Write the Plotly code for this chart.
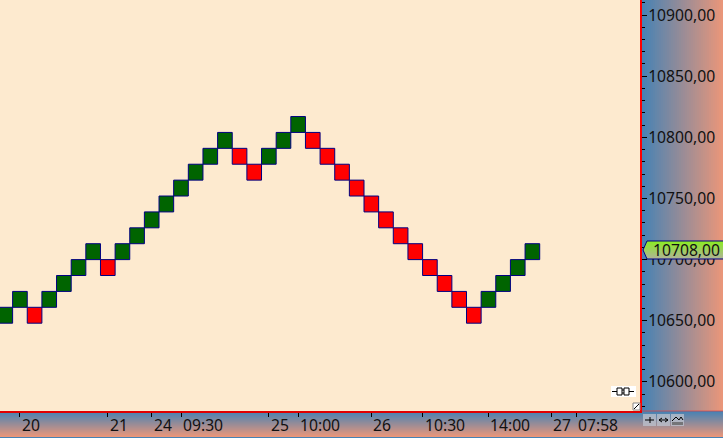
import plotly.graph_objects as go

W, H = 723, 438
PLOT_R, PLOT_B = 640, 411

brick_low = [10648, 10661, 10648, 10661, 10674, 10687, 10700, 10687, 10700, 10713,
             10726, 10739, 10752, 10765, 10778, 10791, 10778, 10765, 10778, 10791,
             10804, 10791, 10778, 10765, 10752, 10739, 10726, 10713, 10700, 10687,
             10674, 10661, 10648, 10661, 10674, 10687, 10700]
brick_dir = ["up", "up", "down", "up", "up", "up", "up", "down", "up", "up",
             "up", "up", "up", "up", "up", "up", "down", "down", "up", "up",
             "up", "down", "down", "down", "down", "down", "down", "down", "down", "down",
             "down", "down", "down", "up", "up", "up", "up"]
brick_size = 13
time_ticks = [1, 7, 10, 12, 18, 20, 25, 28.5, 33, 37.3, 39]
time_labels = ["20", "21", "24", "09:30", "25", "10:00", "26", "10:30", "14:00", "27", "07:58"]
last_price = 10708

FONT = "Noto Sans"
FS = 15.7


def mix(t, a=(70, 130, 180), b=(233, 150, 122)):
    return "rgb(%d,%d,%d)" % tuple(round(a[i] + (b[i] - a[i]) * t) for i in range(3))


def px(x):
    return x / W


def py(y):
    return 1 - y / H


def rect(x0, y0, x1, y1, fill, layer="below", line=None, lw=0):
    return dict(type="rect", xref="paper", yref="paper", x0=px(x0), x1=px(x1), y0=py(y0), y1=py(y1),
                fillcolor=fill, layer=layer, line=dict(width=lw, color=line or fill))


def seg(x0, y0, x1, y1, color="black", width=1, layer="above"):
    return dict(type="line", xref="paper", yref="paper", x0=px(x0), x1=px(x1), y0=py(y0), y1=py(y1),
                layer=layer, line=dict(color=color, width=width))


shapes = []
# right panel gradient
for x in range(641, W, 2):
    shapes.append(rect(x, 0, x + 2, PLOT_B, mix((x - 641) / 80)))
# bottom panel gradient
for y in range(PLOT_B, H):
    shapes.append(rect(0, y, W, y + 1, mix((y - PLOT_B) / 25)))
shapes.append(rect(0, 437, W, 438, "#4682B4"))
shapes.append(seg(641, 411, W, 411, "rgba(230,60,60,0.7)", 1, "below"))

# toolbar buttons
for bx in (643, 657, 671):
    shapes.append(rect(bx, 414, bx + 13, 426, "rgba(190,195,205,0.75)", "above"))
shapes += [seg(645, 420, 654, 420), seg(650, 417, 650, 423),
           seg(659, 420, 668, 420), seg(659, 420, 662, 418), seg(659, 420, 662, 422),
           seg(668, 420, 665, 418), seg(668, 420, 665, 422),
           seg(672, 421, 676, 417), seg(676, 417, 679, 420), seg(679, 420, 681, 417), seg(681, 417, 683, 420),
           rect(672, 422, 683, 425, "rgba(90,90,90,0.7)", "above")]

# connector glyph
shapes.append(rect(611, 386, 636, 397, "white", "above"))
shapes += [seg(612, 391.5, 617, 391.5), seg(629, 391.5, 634, 391.5), seg(622, 390, 624, 390), seg(622, 393, 624, 393),
           rect(617, 388, 622, 395, "white", "above", "black", 1),
           rect(624, 388, 629, 395, "white", "above", "black", 1)]
# corner resize box
shapes.append(rect(633, 403, 640, 410, "white", "above", "#888888", 1))
shapes.append(seg(634, 409, 639, 404, "black", 1))

# current-price tag
for y in range(241, 259):
    t = (y - 241) / 17
    left = 643 + abs(y + 0.5 - 250) * 4 / 9
    shapes.append(rect(left, y, W, y + 1, mix(t, (140, 235, 35), (175, 180, 150)), "above"))
shapes.append(dict(type="path", xref="paper", yref="paper", layer="above",
                   path="M %f %f L %f %f L %f %f L %f %f L %f %f" % (
                       px(723), py(241), px(647), py(241), px(643), py(250),
                       px(647), py(259), px(723), py(259)),
                   line=dict(color="#000080", width=1)))

annotations = [dict(x=t, y=py(425), xref="x", yref="paper", text=l, showarrow=False,
                    xanchor="left", yanchor="middle", xshift=0, font=dict(family=FONT, size=FS, color="#111111"))
               for t, l in zip(time_ticks, time_labels)]
annotations.append(dict(x=px(722), y=last_price, xref="paper", yref="y", text="10708,00", showarrow=False,
                        xanchor="right", yanchor="middle", font=dict(family=FONT, size=FS, color="#111111")))

fig = go.Figure(go.Bar(
    x=list(range(len(brick_low))),
    y=[brick_size] * len(brick_low),
    base=brick_low,
    width=1,
    marker=dict(color=["#006400" if d == "up" else "#FF0000" for d in brick_dir],
                line=dict(color="#000080", width=1)),
    hoverinfo="skip",
))
fig.update_layout(
    width=W, height=H, autosize=False,
    margin=dict(l=0, r=0, t=0, b=0, pad=0),
    paper_bgcolor="#FDEACF", plot_bgcolor="#FDEACF",
    separators=",.",
    showlegend=False,
    font=dict(family=FONT, size=FS, color="#111111"),
    shapes=shapes, annotations=annotations,
    xaxis=dict(domain=[0, PLOT_R / W], range=[-0.362, 43.35], showgrid=False, zeroline=False,
               tickmode="array", tickvals=time_ticks, ticktext=[""] * len(time_ticks),
               ticks="outside", ticklen=4, tickcolor="black", tickwidth=1,
               showline=True, linecolor="#E00000", linewidth=2),
    yaxis=dict(domain=[1 - PLOT_B / H, 1], range=[10576.2, 10912.3], side="right", anchor="x",
               showgrid=False, zeroline=False, tick0=10600, dtick=50, tickformat=".2f",
               ticks="outside", ticklen=5, tickcolor="black", tickwidth=1,
               ticklabelstandoff=-2,
               minor=dict(dtick=10, tick0=10600, ticks="outside", ticklen=3, tickcolor="black", tickwidth=1, showgrid=False),
               showline=True, linecolor="#FF0000", linewidth=2,
               tickfont=dict(family=FONT, size=FS, color="#111111")),
)
fig.write_html("out.html", config=dict(displayModeBar=False, staticPlot=True),
               post_script="document.body.style.margin='0';document.body.style.overflow='hidden';")
